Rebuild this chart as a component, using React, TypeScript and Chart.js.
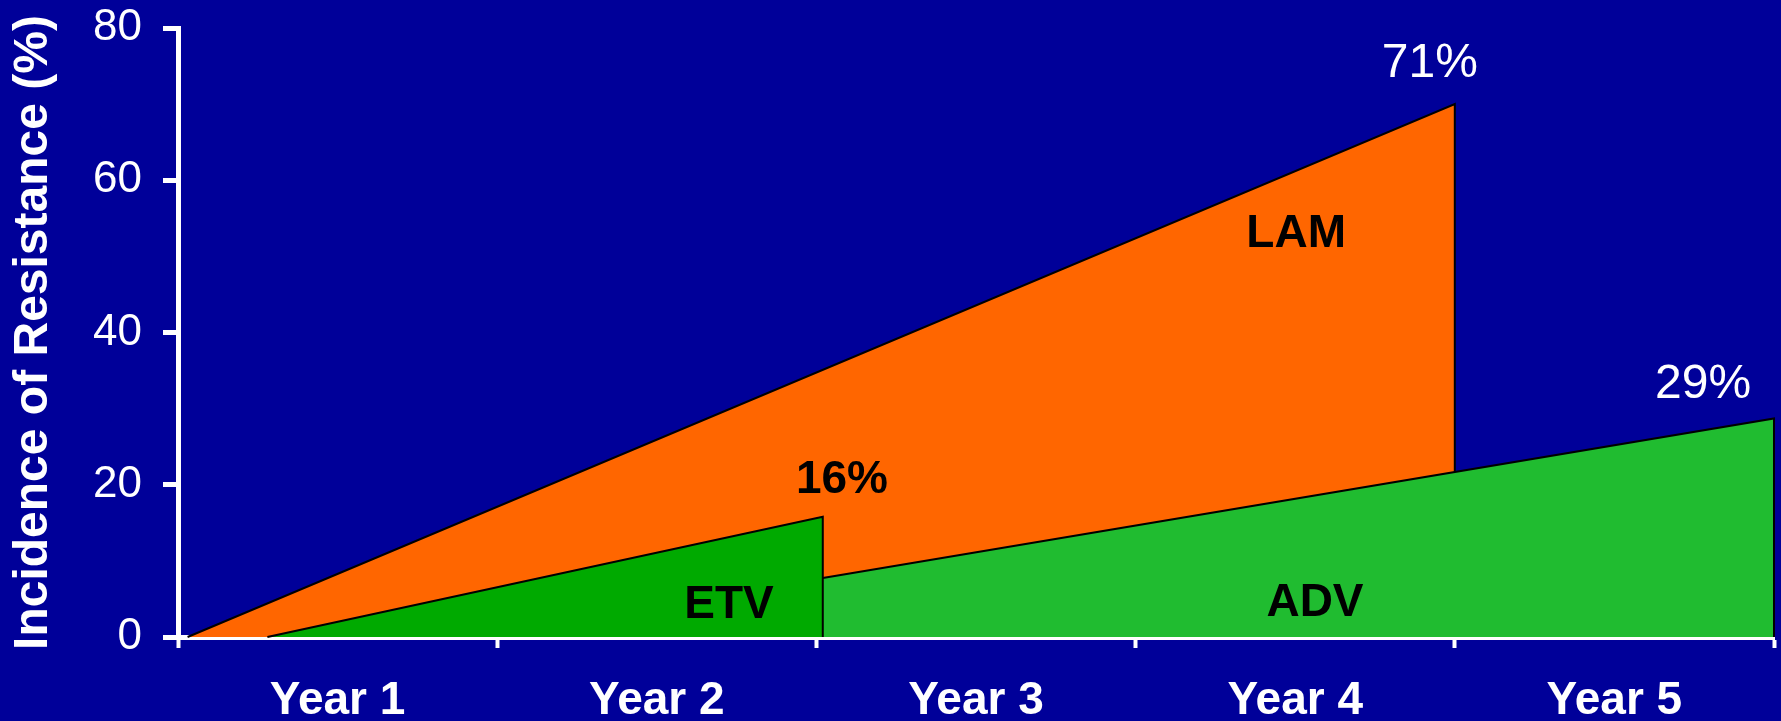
import React, { useEffect, useRef } from 'react';
import { Chart, registerables } from 'chart.js';

Chart.register(...registerables);

// ---- data ----
const yearLabels = ['Year 1', 'Year 2', 'Year 3', 'Year 4', 'Year 5'];
const yTicks = [0, 20, 40, 60, 80];

// LAM (lamivudine) resistance wedge, x in years
const lamX = [0.03, 4.0, 4.0];
const lamY = [0, 70, 0];
// ETV (entecavir)
const etvX = [0.28, 2.02, 2.02];
const etvY = [0, 15.8, 0];
// ADV (adefovir)
const advX = [2.02, 5.0, 5.0];
const advY = [7.75, 28.7, 0];

// annotations (anchor in data units)
const noteText = ['71%', '29%', '16%', 'LAM', 'ETV', 'ADV'];
const noteX = [3.922, 4.778, 2.08, 3.503, 1.726, 3.562];
const noteY = [75.35, 33.1, 20.55, 52.85, 4.15, 4.45];

const FONT = "'Liberation Sans', Arial, Helvetica, sans-serif";
const BG = '#000099';

const toPts = (xs: number[], ys: number[]) => xs.map((x, i) => ({ x, y: ys[i] }));
const isInt = (v: number) => Math.abs(v - Math.round(v)) < 1e-6;

const noteStyles: Record<string, { color: string; font: string }> = {
  '71%': { color: '#ffffff', font: `48px ${FONT}` },
  '29%': { color: '#ffffff', font: `48px ${FONT}` },
  '16%': { color: '#000000', font: `bold 46px ${FONT}` },
  LAM: { color: '#000000', font: `bold 46px ${FONT}` },
  ETV: { color: '#000000', font: `bold 46px ${FONT}` },
  ADV: { color: '#000000', font: `bold 46px ${FONT}` },
};

const notesPlugin = {
  id: 'notes',
  afterDatasetsDraw(chart: any) {
    const { ctx, scales } = chart;
    ctx.save();
    ctx.textAlign = 'center';
    ctx.textBaseline = 'middle';
    noteText.forEach((t, i) => {
      const st = noteStyles[t];
      ctx.fillStyle = st.color;
      ctx.font = st.font;
      ctx.fillText(t, scales.x.getPixelForValue(noteX[i]), scales.y.getPixelForValue(noteY[i]));
    });
    ctx.restore();
  },
};

export default function App() {
  const ref = useRef<HTMLCanvasElement | null>(null);

  useEffect(() => {
    document.body.style.margin = '0';
    document.body.style.background = BG;
    const canvas = ref.current;
    if (!canvas) return;
    const lineDs = (label: string, pts: any[], color: string, order: number) => ({
      label,
      data: pts,
      borderColor: '#000000',
      borderWidth: 2,
      backgroundColor: color,
      fill: 'origin',
      pointRadius: 0,
      tension: 0,
      order,
      clip: 4,
    });
    const chart = new Chart(canvas, {
      type: 'line',
      data: {
        datasets: [
          lineDs('ETV', toPts(etvX, etvY), '#00aa00', 1),
          lineDs('ADV', toPts(advX, advY), '#20bc30', 2),
          lineDs('LAM', toPts(lamX, lamY), '#ff6600', 3),
        ] as any,
      },
      options: {
        animation: false,
        responsive: false,
        devicePixelRatio: 1,
        layout: { padding: { top: 28, right: 7, left: 0, bottom: 0 } },
        plugins: {
          legend: { display: false },
          tooltip: { enabled: false },
        },
        scales: {
          x: {
            type: 'linear',
            position: 'bottom',
            min: 0,
            max: yearLabels.length,
            afterFit: (s: any) => {
              s.height = 84;
              s.paddingLeft = 0;
              s.paddingRight = 0;
            },
            ticks: {
              stepSize: 0.5,
              autoSkip: false,
              maxRotation: 0,
              minRotation: 0,
              padding: 26,
              color: '#ffffff',
              font: { family: FONT, size: 46, weight: 'bold', lineHeight: 1.2 },
              callback: (v: any) => {
                const n = Number(v);
                if (isInt(n)) return '';
                return yearLabels[Math.floor(n)] ?? '';
              },
            },
            grid: {
              drawOnChartArea: false,
              drawTicks: true,
              tickLength: 11,
              tickWidth: 4,
              tickColor: (c: any) =>
                c.tick && isInt(c.tick.value) ? '#ffffff' : 'rgba(0,0,0,0)',
            },
            border: { display: true, color: '#ffffff', width: 5 },
          },
          y: {
            type: 'linear',
            position: 'left',
            min: yTicks[0],
            max: yTicks[yTicks.length - 1],
            afterFit: (s: any) => {
              s.width = 178;
              s.paddingTop = 0;
              s.paddingBottom = 0;
            },
            ticks: {
              stepSize: yTicks[1] - yTicks[0],
              padding: 21,
              color: '#ffffff',
              font: { family: FONT, size: 44, lineHeight: 1.2 },
            },
            grid: {
              drawOnChartArea: false,
              drawTicks: true,
              tickLength: 15,
              tickWidth: 5,
              tickColor: '#ffffff',
            },
            border: { display: true, color: '#ffffff', width: 5 },
            title: {
              display: true,
              text: 'Incidence of Resistance (%)',
              color: '#ffffff',
              font: { family: FONT, size: 48, weight: 'bold', lineHeight: 1.2 },
              padding: { top: 5, bottom: 0 },
            },
          },
        },
      } as any,
      plugins: [notesPlugin],
    });
    return () => chart.destroy();
  }, []);

  return (
    <div style={{ width: 1781, height: 721, background: BG, overflow: 'hidden' }}>
      <canvas ref={ref} width={1781} height={721} style={{ display: 'block', width: 1781, height: 721 }} />
    </div>
  );
}
